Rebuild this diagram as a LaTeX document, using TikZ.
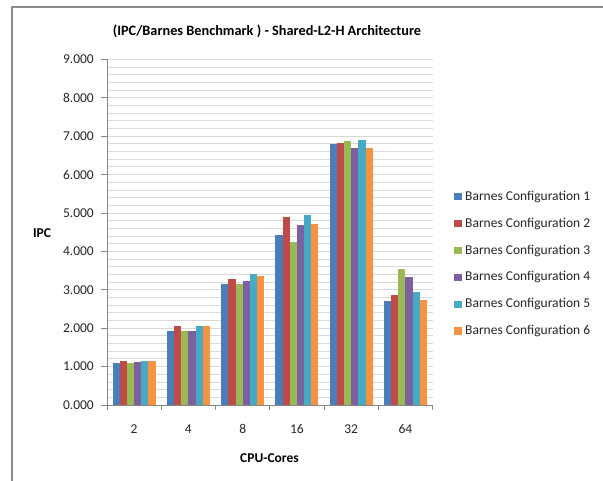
\documentclass[tikz,border=0pt]{standalone}
\usepackage{fontspec}
\setmainfont{Carlito}
\definecolor{s0}{HTML}{4A7EBB}
\definecolor{s1}{HTML}{BE4B48}
\definecolor{s2}{HTML}{98B954}
\definecolor{s3}{HTML}{7D60A0}
\definecolor{s4}{HTML}{46AAC5}
\definecolor{s5}{HTML}{F69240}
\definecolor{gridc}{HTML}{D9D9D9}
\definecolor{axisc}{HTML}{868686}
\definecolor{framec}{HTML}{8C8C8C}
\definecolor{txt}{HTML}{262626}
\begin{document}
\begin{tikzpicture}[x=1pt,y=-1pt,
  frame/.style={draw=framec,line width=1.2pt},
  gridline/.style={draw=gridc,line width=0.9pt},
  axisline/.style={draw=axisc,line width=0.9pt},
  ticklab/.style={font=\fontsize{13.5}{15}\selectfont,text=txt,inner sep=0pt},
  boldlab/.style={font=\fontsize{13.5}{15}\selectfont\bfseries,text=black,inner sep=0pt},
  titlelab/.style={font=\fontsize{14.3}{17}\selectfont\bfseries,text=black,inner sep=0pt},
  legsq/.style={minimum size=7.5pt,inner sep=0pt}]
\useasboundingbox (0,0) rectangle (603,481);
\fill[white] (0,0) rectangle (603,481);
\draw[frame] (12,481) -- (12,7) -- (603,7);
% minor gridlines
\foreach \k in {1,...,45} \draw[gridline] (107,{405-7.68*\k}) -- (432.6,{405-7.68*\k});
% bars
\foreach \vals [count=\i from 0] in {
  {1.09,1.15,1.09,1.12,1.15,1.15},
  {1.92,2.05,1.92,1.935,2.05,2.06},
  {3.14,3.28,3.16,3.22,3.40,3.36},
  {4.43,4.89,4.25,4.68,4.96,4.71},
  {6.79,6.82,6.875,6.68,6.89,6.69},
  {2.71,2.86,3.53,3.33,2.94,2.73}}{
  \foreach \v [count=\j from 0] in \vals {
    \fill[s\j] ({107+54.27*\i+5.63+7.17*\j},405) rectangle ({107+54.27*\i+5.63+7.17*(\j+1)},{405-38.4*\v});
  }
}
% axes
\draw[axisline] (107,59.3) -- (107,405);
\draw[axisline] (107,405) -- (432.6,405);
\foreach \n in {0,...,9} \draw[axisline] (101,{405-38.4*\n}) -- (107,{405-38.4*\n});
\foreach \i in {0,...,6} \draw[axisline] ({107+54.27*\i},405) -- ({107+54.27*\i},410);
% y labels
\foreach \n in {0,...,9} \node[ticklab,anchor=east] (y\n) at (94,{405-38.4*\n}) {\n.000};
% x labels
\foreach \c [count=\i from 0] in {2,4,8,16,32,64} \node[ticklab] (x\i) at ({107+54.27*(\i+0.5)},429) {\c};
% axis titles
\node[boldlab] (xt) at (269.5,458) {CPU-Cores};
\node[boldlab] (yt) at (42,233) {IPC};
\node[titlelab] (title) at (267,31) {(IPC/Barnes Benchmark ) - Shared-L2-H Architecture};
% legend
\foreach \j in {0,...,5} {
  \node[legsq,fill=s\j] (ls\j) at (458,{196.7+26.9*\j}) {};
  \node[ticklab,anchor=west] (lt\j) at (465,{196.7+26.9*\j}) {Barnes Configuration \the\numexpr\j+1\relax};
}
\end{tikzpicture}
\end{document}
